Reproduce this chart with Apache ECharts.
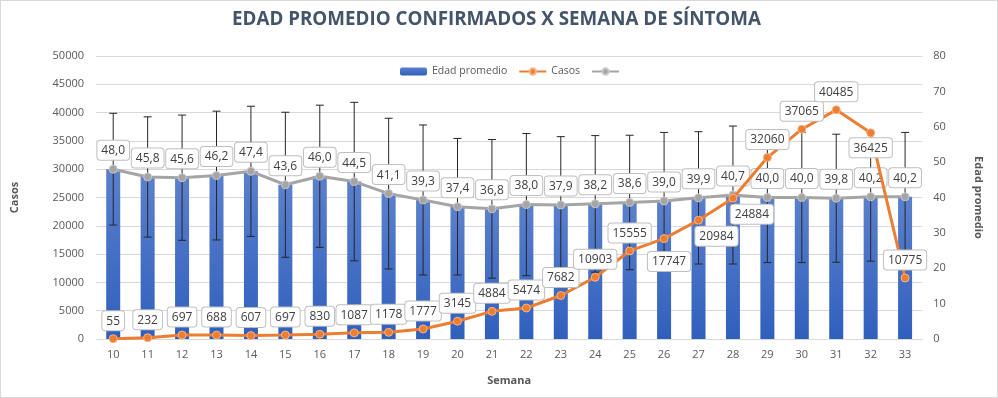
<!DOCTYPE html>
<html>
<head>
<meta charset="utf-8">
<script src="https://cdn.jsdelivr.net/npm/echarts@6/dist/echarts.min.js"></script>
<style>
html,body{margin:0;padding:0;background:#fff;}
#c{width:996px;height:396px;border:1px solid #d9d9d9;}
</style>
</head>
<body>
<div id="c"></div>
<script>
const semanas = ['10','11','12','13','14','15','16','17','18','19','20','21','22','23','24','25','26','27','28','29','30','31','32','33'];
const edadPromedio = [48.0,45.8,45.6,46.2,47.4,43.6,46.0,44.5,41.1,39.3,37.4,36.8,38.0,37.9,38.2,38.6,39.0,39.9,40.7,40.0,40.0,39.8,40.2,40.2];
const desviacion = [15.8,17.0,17.7,18.2,18.4,20.5,20.1,22.4,21.3,21.2,19.3,19.6,20.1,19.3,19.3,19.0,19.4,18.7,19.5,18.4,18.4,18.1,18.2,18.2];
const casos = [55,232,697,688,607,697,830,1087,1178,1777,3145,4884,5474,7682,10903,15555,17747,20984,24884,32060,37065,40485,36425,10775];
const casosTicks = [0,5000,10000,15000,20000,25000,30000,35000,40000,45000,50000];
const edadTicks = [0,10,20,30,40,50,60,70,80];

// label shifts (dx, dy) of the Casos labels that sit below their point
const labelShift = {16:[5,41], 17:[18,34], 18:[19,34], 22:[0,33]};

const boxLabel = {
  show:true, position:'top', distance:4,
  backgroundColor:'#fff', borderColor:'#bfbfbf', borderWidth:1, borderRadius:3,
  padding:[4,4,3,4], color:'#404040', fontSize:12, fontFamily:'Open Sans'
};

const errData = edadPromedio.map((m,i)=>[i, m - desviacion[i], m + desviacion[i]]);

const chart = echarts.init(document.getElementById('c'));
chart.setOption({
  animation:false,
  textStyle:{fontFamily:'Open Sans'},
  title:{
    text:'EDAD PROMEDIO CONFIRMADOS X SEMANA DE SÍNTOMA',
    left:231, top:9, padding:0,
    textStyle:{fontSize:18.8, fontWeight:'bold', color:'#44546a', fontFamily:'Open Sans'}
  },
  legend:{
    left:399, top:65, padding:0, itemWidth:27, itemHeight:8, itemGap:11,
    textStyle:{color:'#595959', fontSize:10.5},
    data:['Edad promedio','Casos',' ']
  },
  grid:{left:93.7, right:74.7, top:55, bottom:58},
  xAxis:{
    type:'category', data:semanas,
    name:'Semana', nameLocation:'middle', nameGap:36,
    nameTextStyle:{fontWeight:'bold', color:'#595959', fontSize:11},
    axisLine:{lineStyle:{color:'#d9d9d9'}},
    axisTick:{show:false},
    axisLabel:{color:'#595959', fontSize:11, margin:10}
  },
  yAxis:[
    {
      type:'value', min:casosTicks[0], max:casosTicks[casosTicks.length-1], interval:5000,
      name:'Casos', nameLocation:'middle', nameGap:76, nameRotate:90,
      nameTextStyle:{fontWeight:'bold', color:'#595959', fontSize:11},
      axisLabel:{color:'#595959', fontSize:11, margin:12, formatter:v=>String(v)},
      splitLine:{lineStyle:{color:'#d9d9d9'}},
      axisLine:{show:false}, axisTick:{show:false}
    },
    {
      type:'value', min:edadTicks[0], max:edadTicks[edadTicks.length-1], interval:10,
      name:'Edad promedio', nameLocation:'middle', nameGap:50, nameRotate:-90,
      nameTextStyle:{fontWeight:'bold', color:'#595959', fontSize:11},
      axisLabel:{color:'#595959', fontSize:11, margin:11, formatter:v=>String(v)},
      splitLine:{show:false},
      axisLine:{show:false}, axisTick:{show:false}
    }
  ],
  series:[
    {
      name:'Edad promedio', type:'bar', yAxisIndex:1, data:edadPromedio, barWidth:14, z:1,
      itemStyle:{color:new echarts.graphic.LinearGradient(0,0,0,1,[{offset:0,color:'#5b80cc'},{offset:1,color:'#2f5fbd'}])}
    },
    {
      name:'err', type:'custom', yAxisIndex:1, data:errData, z:3,
      encode:{x:0, y:[1,2]},
      renderItem:function(params, api){
        const lo = api.coord([api.value(0), api.value(1)]);
        const hi = api.coord([api.value(0), api.value(2)]);
        const hw = 4;
        const st = {stroke:'#262626', lineWidth:1};
        return {type:'group', children:[
          {type:'line', shape:{x1:lo[0],y1:lo[1],x2:hi[0],y2:hi[1]}, style:st},
          {type:'line', shape:{x1:hi[0]-hw,y1:hi[1],x2:hi[0]+hw,y2:hi[1]}, style:st},
          {type:'line', shape:{x1:lo[0]-hw,y1:lo[1],x2:lo[0]+hw,y2:lo[1]}, style:st}
        ]};
      }
    },
    {
      name:' ', type:'line', yAxisIndex:1, data:edadPromedio, z:4,
      symbol:'circle', symbolSize:8,
      lineStyle:{color:'#a5a5a5', width:3},
      itemStyle:{color:'#a5a5a5', borderColor:'#c8c8c8', borderWidth:1},
      label:Object.assign({}, boxLabel, {distance:5, formatter:p=>p.value.toFixed(1).replace('.',',')})
    },
    {
      name:'Casos', type:'line', yAxisIndex:0, data:casos, z:5,
      symbol:'circle', symbolSize:8,
      lineStyle:{color:'#ed7d31', width:3},
      itemStyle:{color:'#ed7d31', borderColor:'#f5b58a', borderWidth:1},
      label:Object.assign({}, boxLabel, {formatter:p=>String(p.value)}),
      labelLayout:function(p){
        const s = labelShift[p.dataIndex];
        return s ? {dx:s[0], dy:s[1]} : {};
      }
    }
  ]
});
</script>
</body>
</html>
